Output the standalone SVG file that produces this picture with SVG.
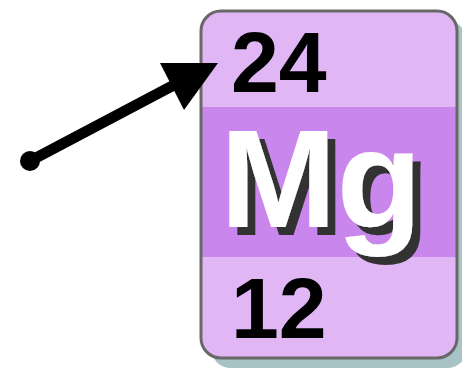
<svg xmlns="http://www.w3.org/2000/svg" width="462" height="371" viewBox="0 0 462 371">
<style>
.num{font-family:"Liberation Sans",Arial,sans-serif;font-weight:bold;font-size:86px;fill:#000}
.sym{font-family:"Liberation Sans",Arial,sans-serif;font-weight:bold;font-size:140px;fill:#fff}
</style>
<defs>
<clipPath id="cardclip"><rect x="201" y="11" width="256" height="347" rx="20"/></clipPath>
<filter id="shadow" x="-10%" y="-10%" width="130%" height="130%">
<feFlood flood-color="#333333" result="c"/>
<feComposite in="c" in2="SourceAlpha" operator="in" result="s"/>
<feOffset in="s" dx="8" dy="8" result="o"/>
<feMerge><feMergeNode in="o"/><feMergeNode in="SourceGraphic"/></feMerge>
</filter>
</defs>
<g id="card">
<rect x="211" y="21" width="256" height="347" rx="20" fill="#a7c3c6"/>
<g clip-path="url(#cardclip)">
<rect x="201" y="11" width="256" height="347" fill="#e0b6f5"/>
<rect x="201" y="107" width="256" height="150" fill="#c987ee"/>
</g>
<rect x="201" y="11" width="256" height="347" rx="20" fill="none" stroke="#686868" stroke-width="3"/>
<text class="num" x="231" y="92">24</text>
<text class="sym" x="220" y="227" filter="url(#shadow)">Mg</text>
<text class="num" x="231" y="338">12</text>
</g>
<g id="connectors">
<line x1="30" y1="161" x2="174" y2="85" stroke="#000" stroke-width="11"/>
<circle cx="30" cy="161" r="10" fill="#000"/>
<polygon points="160,63 218,63 184,110" fill="#000"/>
</g>
</svg>
